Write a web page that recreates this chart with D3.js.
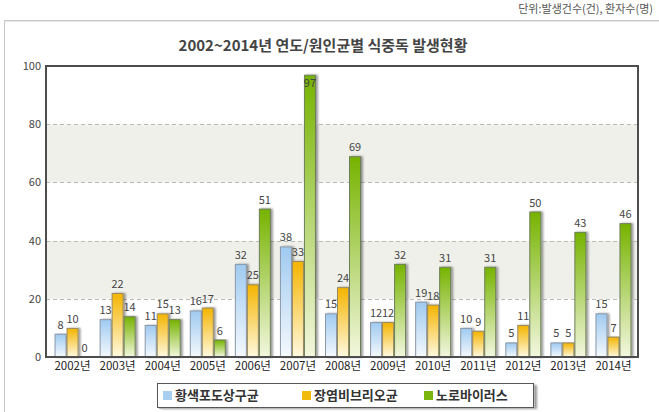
<!DOCTYPE html>
<html><head><meta charset="utf-8">
<script src="https://cdn.jsdelivr.net/npm/d3@7"></script>
<style>
html,body{margin:0;padding:0;background:#fff;}
svg{display:block;}
text{font-family:"Noto Sans CJK KR","Noto Sans",sans-serif;}
</style></head>
<body>
<svg id="c" width="659" height="412"></svg>
<script>
const years = ["2002년","2003년","2004년","2005년","2006년","2007년","2008년","2009년","2010년","2011년","2012년","2013년","2014년"];
const seriesNames = ["황색포도상구균","장염비브리오균","노로바이러스"];
const staph = [8,13,11,16,32,38,15,12,19,10,5,5,15];
const vibrio = [10,22,15,17,25,33,24,12,18,9,11,5,7];
const noro = [0,14,13,6,51,97,69,32,31,31,50,43,46];
const yTicks = [0,20,40,60,80,100];
const titleText = "2002~2014년 연도/원인균별 식중독 발생현황";
const unitText = "단위:발생건수(건), 환자수(명)";

const series = [staph, vibrio, noro];
const colors = [
  {top:"#9fcaf0", bot:"#f5f9fd", key:"#a9cff0", stroke:"#8a98a8"},
  {top:"#f4b400", bot:"#fff9e0", key:"#f2bb0c", stroke:"#9a8a60"},
  {top:"#76b300", bot:"#f3f7df", key:"#7ab60e", stroke:"#6e7f58"}
];

const svg = d3.select("#c");
const L=46, R=638, T=66, B=357;

// outer frame
svg.append("line").attr("x1",4.5).attr("x2",4.5).attr("y1",20).attr("y2",412).attr("stroke","#c8c8c8").attr("stroke-width",1);
svg.append("line").attr("x1",4).attr("x2",659).attr("y1",20.5).attr("y2",20.5).attr("stroke","#c8c8c8").attr("stroke-width",1);
svg.append("line").attr("x1",5).attr("x2",659).attr("y1",21.5).attr("y2",21.5).attr("stroke","#e6e6e6").attr("stroke-width",1);

svg.append("text").attr("x",653).attr("y",13).attr("text-anchor","end")
  .attr("font-size",11).attr("fill","#555").text(unitText);

svg.append("text").attr("x",323).attr("y",51).attr("text-anchor","middle")
  .attr("font-size",15).attr("font-weight","bold").attr("fill","#444").text(titleText);

const y = d3.scaleLinear().domain([0,100]).range([B,T]);
const x = d3.scaleBand().domain(years).range([50,636]).padding(0);
const xs = d3.scaleBand().domain([0,1,2]).range([0,36]).padding(0);

// bands
for (let i=0;i<yTicks.length-1;i++){
  svg.append("rect").attr("x",L).attr("width",R-L)
    .attr("y",y(yTicks[i+1])).attr("height",y(yTicks[i])-y(yTicks[i+1]))
    .attr("fill", i%2===1 ? "#f0f0eb" : "#ffffff");
}
// grid
svg.append("g").selectAll("line").data(yTicks.slice(1,-1)).join("line")
  .attr("x1",L).attr("x2",R).attr("y1",d=>Math.round(y(d))+0.5).attr("y2",d=>Math.round(y(d))+0.5)
  .attr("stroke","#bbbbb5").attr("stroke-dasharray","4,3");

// gradients
const defs = svg.append("defs");
colors.forEach((c,i)=>{
  const g = defs.append("linearGradient").attr("id","g"+i).attr("x1",0).attr("x2",0).attr("y1",0).attr("y2",1);
  g.append("stop").attr("offset","0%").attr("stop-color",c.top);
  g.append("stop").attr("offset","100%").attr("stop-color",c.bot);
});
const sh = defs.append("filter").attr("id","sh").attr("x","-20%").attr("y","-5%").attr("width","160%").attr("height","110%");
sh.append("feGaussianBlur").attr("in","SourceAlpha").attr("stdDeviation",1.2);
sh.append("feOffset").attr("dx",2).attr("dy",0).attr("result","b");
sh.append("feComponentTransfer").append("feFuncA").attr("type","linear").attr("slope",0.4);
const m = sh.append("feMerge"); m.append("feMergeNode"); m.append("feMergeNode").attr("in","SourceGraphic");

// bars
series.forEach((vals,si)=>{
  const g = svg.append("g");
  g.selectAll("rect").data(vals).join("rect")
    .attr("x",(d,i)=>x(years[i])+(x.bandwidth()-36)/2+xs(si)+0.5)
    .attr("width",xs.bandwidth()-1)
    .attr("y",d=>y(d)+0.5)
    .attr("height",d=>Math.max(0,y(0)-y(d)-0.5))
    .attr("fill","url(#g"+si+")")
    .attr("stroke",colors[si].stroke).attr("stroke-width",1)
    .attr("filter","url(#sh)")
    .style("display",d=>d===0?"none":null);
});
// labels
series.forEach((vals,si)=>{
  svg.append("g").selectAll("text").data(vals).join("text")
    .attr("x",(d,i)=>x(years[i])+(x.bandwidth()-36)/2+xs(si)+xs.bandwidth()/2)
    .attr("y",d=> d>90 ? y(d)+12 : y(d)-5)
    .attr("text-anchor","middle").attr("font-size",11).attr("fill","#444")
    .text(d=>d);
});

// frame
svg.append("path").attr("d",`M${L},${B}V${T}H${R}V${B}Z`).attr("fill","none").attr("stroke","#4d4d4d").attr("stroke-width",2);

// axes
const ya = svg.append("g").attr("transform",`translate(${L-3},0)`)
  .call(d3.axisLeft(y).tickValues(yTicks).tickSize(0).tickPadding(2));
ya.select(".domain").remove();
ya.selectAll("text").attr("font-size",11).attr("fill","#444").attr("font-family","'Noto Sans',sans-serif");

const xa = svg.append("g").attr("transform",`translate(0,${B})`)
  .call(d3.axisBottom(x).tickSize(0).tickPadding(5));
xa.select(".domain").remove();
xa.selectAll("text").attr("font-size",11.5).attr("fill","#222").attr("font-family","'Noto Sans CJK KR',sans-serif");

// legend
const lg = svg.append("g");
const lx=157, ly=383, lw=376, lh=24;
lg.append("rect").attr("x",lx+2).attr("y",ly+2).attr("width",lw).attr("height",lh).attr("fill","#bbb").attr("filter","url(#sh)");
lg.append("rect").attr("x",lx+0.5).attr("y",ly+0.5).attr("width",lw).attr("height",lh).attr("fill","#fff").attr("stroke","#555");
const legX = [163,302,424];
seriesNames.forEach((n,i)=>{
  lg.append("rect").attr("x",legX[i]).attr("y",ly+8).attr("width",9).attr("height",9).attr("fill",colors[i].key);
  lg.append("text").attr("x",legX[i]+12).attr("y",ly+17).attr("font-size",13).attr("font-weight","bold")
    .attr("fill","#333").text(n);
});
</script>
</body></html>
